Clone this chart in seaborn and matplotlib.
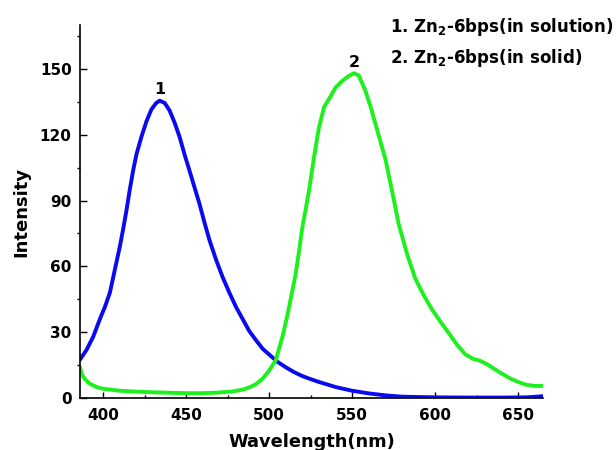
import matplotlib
matplotlib.use("Agg")
import matplotlib.pyplot as plt
import seaborn as sns
import pandas as pd
from matplotlib.ticker import MultipleLocator

# ---- data ----
wl_solution = [386, 390, 394, 398, 401, 404, 406, 408, 410, 412, 414, 416, 418, 420,
               423, 426, 429, 432, 434, 437, 440, 443, 446, 449, 452, 455, 458, 461,
               464, 468, 472, 476, 480, 484, 488, 492, 496, 500, 505, 510, 515, 520,
               525, 530, 540, 550, 560, 570, 580, 600, 620, 640, 655, 665]
int_solution = [17.5, 22, 28, 36, 41.5, 48, 55, 62, 69, 77, 85.5, 95, 103.6, 111,
                119, 126, 131.5, 134.5, 135.5, 134.5, 131, 125.5, 119, 111, 103.6, 96, 88.5, 80,
                72, 63, 55, 48, 41.5, 36, 30.5, 26.4, 22.5, 19.8, 16.5, 14, 11.8, 10,
                8.6, 7.3, 5, 3.3, 2.1, 1.2, 0.6, 0.3, 0.2, 0.2, 0.3, 0.8]

wl_solid = [386, 387, 389, 392, 396, 400, 410, 420, 430, 440, 450, 460, 470, 478, 484,
            488, 492, 496, 500, 504, 508, 510, 512, 514, 516, 518, 520, 522, 524, 527,
            530, 533, 537, 540, 544, 548, 551, 554, 558, 561, 564, 567, 570, 574, 578,
            583, 588, 593, 598, 603, 608, 613, 618, 623, 627, 631, 635, 640, 645, 650,
            655, 660, 665]
int_solid = [14, 11, 8.5, 6.5, 5, 4.2, 3.3, 2.9, 2.6, 2.4, 2.2, 2.2, 2.5, 3.0, 3.8,
             4.8, 6.3, 8.8, 12.5, 17.3, 27.9, 34.5, 41.5, 49, 56.7, 67, 77.9, 86, 94.5, 109.7,
             123.3, 132.4, 137.5, 141.5, 144.5, 146.8, 148, 147, 140, 133, 125, 117, 109, 94.5, 79.4,
             65.8, 54.5, 47, 40.5, 35, 29.8, 24.5, 20, 17.8, 17, 15.5, 13.6, 11.2, 9, 7.3,
             6, 5.5, 5.5]

legend_labels = [r"1. Zn$_\mathbf{2}$-6bps(in solution)", r"2. Zn$_\mathbf{2}$-6bps(in solid)"]
peak_labels = ["1", "2"]
x_ticks = [400, 450, 500, 550, 600, 650]
y_ticks = [0, 30, 60, 90, 120, 150]

# ---- style ----
sns.set_style("ticks")
plt.rcParams["font.family"] = ["DejaVu Sans"]
plt.rcParams["font.weight"] = "bold"
plt.rcParams["mathtext.fontset"] = "dejavusans"
plt.rcParams["mathtext.default"] = "bf"
for key in ["text.color", "axes.labelcolor", "xtick.color", "ytick.color", "axes.edgecolor"]:
    plt.rcParams[key] = "black"

fig = plt.figure(figsize=(6.16, 4.5), dpi=100)
ax = fig.add_axes([80 / 616, 52 / 450, 463 / 616, 373 / 450])

df1 = pd.DataFrame({"wl": wl_solution, "I": int_solution})
df2 = pd.DataFrame({"wl": wl_solid, "I": int_solid})
sns.lineplot(data=df1, x="wl", y="I", ax=ax, color="#0a0af0", lw=2.8,
             sort=False, estimator=None)
sns.lineplot(data=df2, x="wl", y="I", ax=ax, color="#1ef01e", lw=2.8,
             sort=False, estimator=None)

ax.set_xlim(386, 665)
ax.set_ylim(0, 170)
ax.set_xticks(x_ticks)
ax.set_yticks(y_ticks)
ax.xaxis.set_minor_locator(MultipleLocator(25))
ax.yaxis.set_minor_locator(MultipleLocator(15))
ax.tick_params(axis="x", which="major", direction="in", length=4.5, width=1.0,
               labelsize=11, pad=7.2, color="black", labelcolor="black")
ax.tick_params(axis="x", which="minor", direction="in", length=2.2, width=1.0, color="black")
ax.tick_params(axis="y", which="major", direction="in", length=5, width=1.0,
               labelsize=11, pad=6, color="black", labelcolor="black")
ax.tick_params(axis="y", which="minor", direction="out", length=2.3, width=1.0, color="black")
for lab in ax.get_xticklabels() + ax.get_yticklabels():
    lab.set_fontweight("bold")

sns.despine(ax=ax)
for s in ["left", "bottom"]:
    ax.spines[s].set_linewidth(1.2)
    ax.spines[s].set_color("black")

ax.set_xlabel("Wavelength(nm)", fontsize=12.8, fontweight="bold", labelpad=7, color="black")
ax.set_ylabel("Intensity", fontsize=13, fontweight="bold", labelpad=6.5, color="black")

ax.text(433.8, 138.5, peak_labels[0], ha="center", va="baseline", fontsize=11.5,
        fontweight="bold", color="black")
ax.text(551.2, 150.9, peak_labels[1], ha="center", va="baseline", fontsize=11.5,
        fontweight="bold", color="black")

fig.text(390.5 / 616, 1 - 31.7 / 450, legend_labels[0], ha="left", va="baseline",
         fontsize=12, fontweight="bold", color="black")
fig.text(390.5 / 616, 1 - 63.3 / 450, legend_labels[1], ha="left", va="baseline",
         fontsize=12, fontweight="bold", color="black")

fig.savefig("out.png", dpi=100)
